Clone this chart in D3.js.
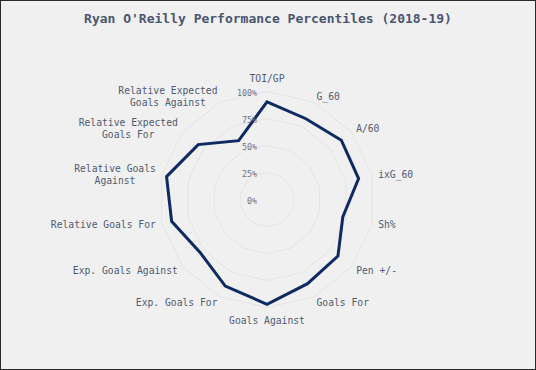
<!DOCTYPE html>
<html><head><meta charset="utf-8">
<script src="https://cdn.jsdelivr.net/npm/d3@7"></script>
<style>html,body{margin:0;padding:0;background:#f0f0f0;}svg{display:block;}</style>
</head><body>
<script>
const categories = ["TOI/GP","G_60","A/60","ixG_60","Sh%","Pen +/-","Goals For","Goals Against","Exp. Goals For","Exp. Goals Against","Relative Goals For","Relative Goals Against","Relative Expected Goals For","Relative Expected Goals Against"];
const labelLines = [["TOI/GP"],["G_60"],["A/60"],["ixG_60"],["Sh%"],["Pen +/-"],["Goals For"],["Goals Against"],["Exp. Goals For"],["Exp. Goals Against"],["Relative Goals For"],["Relative Goals","Against"],["Relative Expected","Goals For"],["Relative Expected","Goals Against"]];
const values = [90.5, 83, 88, 87, 72, 84, 86.5, 97, 89, 79, 90.6, 95.4, 81.5, 60.5];
const radialTicks = [0, 25, 50, 75, 100];
const title = "Ryan O'Reilly Performance Percentiles (2018-19)";

const W = 536, H = 370, cx = 267, cy = 199.5, R = 108;
const font = "'DejaVu Sans Mono', monospace";
const svg = d3.select("body").append("svg").attr("width", W).attr("height", H);
svg.append("rect").attr("x",0.5).attr("y",0.5).attr("width",W-1).attr("height",H-1)
  .attr("fill","#f0f0f0").attr("stroke","#2a2a2a").attr("stroke-width",1);

const ang = d3.scaleBand().domain(categories).range([0, 2*Math.PI]).align(0).paddingInner(0).paddingOuter(0);
const angleOf = c => ang(c);
const r = d3.scaleLinear().domain([0, 100]).range([0, R]);
const g = svg.append("g").attr("transform", `translate(${cx},${cy})`);

// grid polygons
const lineRadial = d3.lineRadial().angle(d => angleOf(d.c)).radius(d => r(d.v)).curve(d3.curveLinearClosed);
radialTicks.filter(t => t > 0).forEach(t => {
  g.append("path").attr("d", lineRadial(categories.map(c => ({c, v: t}))))
    .attr("fill","none").attr("stroke","#e4e4e4").attr("stroke-width",1);
});

// data
g.append("path").attr("d", lineRadial(categories.map((c,i) => ({c, v: values[i]}))))
  .attr("fill","none").attr("stroke","#0d2a62").attr("stroke-width",3).attr("stroke-linejoin","miter");

// radial tick labels
radialTicks.forEach(t => {
  g.append("text").attr("x", -10).attr("y", -r(t) + 1).attr("text-anchor","end")
    .attr("dominant-baseline","central").attr("font-family",font).attr("font-size",8.3)
    .attr("fill","#6a7487").text(t + "%");
});

// angular labels
const fs = 9.7, lh = 12;
categories.forEach((c,i) => {
  const a = angleOf(c);
  const dx = Math.sin(a), dy = -Math.cos(a);
  const px = dx*(R+6), py = dy*(R+6);
  const lines = labelLines[i];
  const widths = lines.map(l => l.length * fs * 0.602);
  const bw = d3.max(widths);
  let anchor = Math.abs(dx) < 0.1 ? "middle" : (dx > 0 ? "start" : "end");
  let centerX = anchor === "middle" ? px : (anchor === "start" ? px + bw/2 : px - bw/2);
  let vshift = anchor === "middle" ? dy*7 : 0;
  const blockH = lines.length * lh;
  lines.forEach((l,k) => {
    g.append("text").attr("x", centerX).attr("y", py + vshift - blockH/2 + lh*(k+0.5))
      .attr("text-anchor","middle").attr("dominant-baseline","central")
      .attr("font-family",font).attr("font-size",fs).attr("fill","#4f5b70").text(l);
  });
});

svg.append("text").attr("x", W/2).attr("y", 18).attr("text-anchor","middle")
  .attr("dominant-baseline","central").attr("font-family",font).attr("font-size",13)
  .attr("font-weight","bold").attr("fill","#4a5670").text(title);
</script>
</body></html>
